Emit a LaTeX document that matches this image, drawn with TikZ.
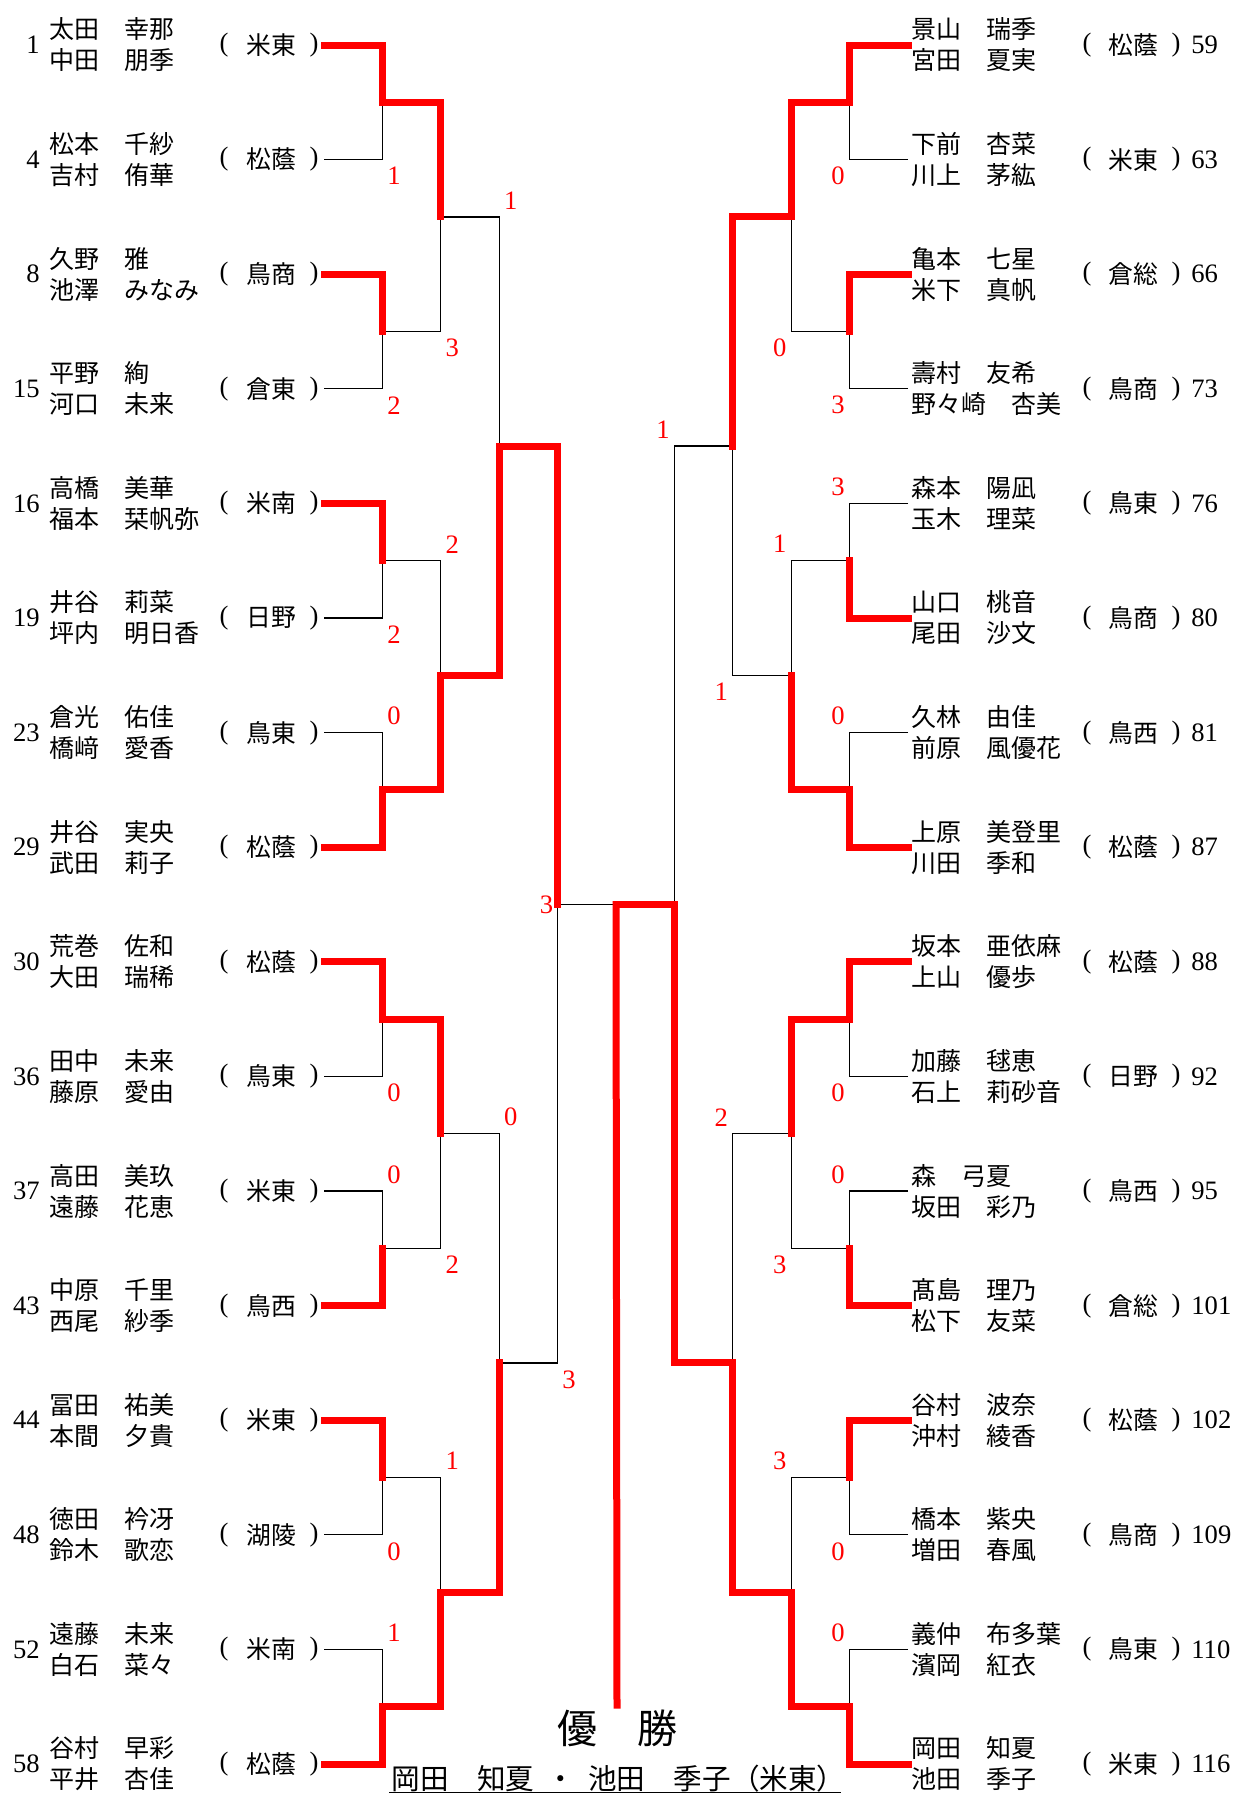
\documentclass[tikz,border=0pt]{standalone}
\usepackage{fontspec}
\setmainfont{Liberation Serif}
\newfontfamily\jpfont{Noto Sans CJK JP}
\usetikzlibrary{positioning,calc}

\begin{document}
\begin{tikzpicture}[x=0.5pt,y=-0.5pt,node distance=2pt]
  \tikzstyle{win}=[draw=red,line width=3.5pt,line cap=rect,line join=miter]
  \tikzstyle{lose}=[draw=black,line width=0.65pt]
  \tikzstyle{seed}=[inner sep=0pt,font=\fontsize{13.3}{15}\selectfont]
  \tikzstyle{score}=[inner sep=0pt,text=red,font=\fontsize{13.3}{15}\selectfont]
  \tikzstyle{paren}=[inner sep=0pt,font=\fontsize{13.3}{15}\selectfont]
  \tikzstyle{player}=[inner sep=0pt,align=left,font=\jpfont\fontsize{12.5}{15.5}\selectfont]
  \tikzstyle{school}=[inner sep=0pt,font=\jpfont\fontsize{12.4}{15}\selectfont]
  \useasboundingbox (0,0) rectangle (1236,1794);

  \foreach \q/\sd/\na/\nb/\tm in {0/1/太田　幸那/中田　朋季/米東, 1/4/松本　千紗/吉村　侑華/松蔭,
      2/8/久野　雅/池澤　みなみ/鳥商, 3/15/平野　絢/河口　未来/倉東,
      4/16/高橋　美華/福本　栞帆弥/米南, 5/19/井谷　莉菜/坪内　明日香/日野,
      6/23/倉光　佑佳/橋﨑　愛香/鳥東, 7/29/井谷　実央/武田　莉子/松蔭,
      8/30/荒巻　佐和/大田　瑞稀/松蔭, 9/36/田中　未来/藤原　愛由/鳥東,
      10/37/高田　美玖/遠藤　花恵/米東, 11/43/中原　千里/西尾　紗季/鳥西,
      12/44/冨田　祐美/本間　夕貴/米東, 13/48/徳田　衿冴/鈴木　歌恋/湖陵,
      14/52/遠藤　未来/白石　菜々/米南, 15/58/谷村　早彩/平井　杏佳/松蔭}{
    \node[seed,anchor=east] (sL\q) at (40,45+114.6*\q) {\sd};
    \node[player,anchor=west] (nL\q) at (49,45+114.6*\q) {\na\\\nb};
    \node[paren] (oL\q) at (224,45+114.6*\q) {(};
    \node[school] (kL\q) at (271,45+114.6*\q) {\tm};
    \node[paren] (cL\q) at (314,45+114.6*\q) {)};
    \coordinate (tL\q) at (324,45+114.6*\q);
  }

  \foreach \q/\sd/\na/\nb/\tm in {0/59/景山　瑞季/宮田　夏実/松蔭, 1/63/下前　杏菜/川上　茅紘/米東,
      2/66/亀本　七星/米下　真帆/倉総, 3/73/壽村　友希/野々崎　杏美/鳥商,
      4/76/森本　陽凪/玉木　理菜/鳥東, 5/80/山口　桃音/尾田　沙文/鳥商,
      6/81/久林　由佳/前原　風優花/鳥西, 7/87/上原　美登里/川田　季和/松蔭,
      8/88/坂本　亜依麻/上山　優歩/松蔭, 9/92/加藤　毬恵/石上　莉砂音/日野,
      10/95/森　弓夏/坂田　彩乃/鳥西, 11/101/髙島　理乃/松下　友菜/倉総,
      12/102/谷村　波奈/沖村　綾香/松蔭, 13/109/橋本　紫央/増田　春風/鳥商,
      14/110/義仲　布多葉/濱岡　紅衣/鳥東, 15/116/岡田　知夏/池田　季子/米東}{
    \coordinate (tR\q) at (908,45+114.6*\q);
    \node[player,anchor=west] (nR\q) at (911,45+114.6*\q) {\na\\\nb};
    \node[paren] (oR\q) at (1087,45+114.6*\q) {(};
    \node[school] (kR\q) at (1133,45+114.6*\q) {\tm};
    \node[paren] (cR\q) at (1176,45+114.6*\q) {)};
    \node[seed,anchor=west] (sR\q) at (1191,45+114.6*\q) {\sd};
  }

  \foreach \rd/\nm in {1/7,2/3,3/1,4/0}
    \foreach \j in {0,...,\nm}{
      \coordinate (L\rd-\j) at ({324+58.4*\rd},{45+114.6*(\j*2^\rd+(2^\rd-1)/2)});
      \coordinate (R\rd-\j) at ({908-58.4*\rd},{45+114.6*(\j*2^\rd+(2^\rd-1)/2)});
    }
  \coordinate (F) at (616,904.5);

  \foreach \ch/\pa/\v/\w in {tL1/L1-0/1/1, tL3/L1-1/2/1, tL5/L1-2/2/1, tL6/L1-3/0/-1,
      tL9/L1-4/0/1, tL10/L1-5/0/-1, tL13/L1-6/0/1, tL14/L1-7/1/-1,
      L1-1/L2-0/3/1, L1-2/L2-1/2/-1, L1-5/L2-2/2/1, L1-6/L2-3/1/-1,
      L2-0/L3-0/1/-1, L2-2/L3-1/0/-1, L3-1/L4-0/3/1}{
    \draw[lose] (\ch) -| (\pa);
    \node[score] (x\ch) at ($(\pa |- \ch)+(11.5,16.5*\w)$) {\v};
  }
  \foreach \ch/\pa/\v/\w in {tR1/R1-0/0/1, tR3/R1-1/3/1, tR4/R1-2/3/-1, tR6/R1-3/0/-1,
      tR9/R1-4/0/1, tR10/R1-5/0/-1, tR13/R1-6/0/1, tR14/R1-7/0/-1,
      R1-1/R2-0/0/1, R1-2/R2-1/1/-1, R1-5/R2-2/3/1, R1-6/R2-3/3/-1,
      R2-1/R3-0/1/1, R2-2/R3-1/2/-1, R3-0/R4-0/1/-1}{
    \draw[lose] (\ch) -| (\pa);
    \node[score] (x\ch) at ($(\pa |- \ch)+(-11.5,16.5*\w)$) {\v};
  }
  \draw[lose] (L4-0) -- (F);
  \node[score,left=of L4-0] (xL4-0) {3};

  \foreach \ch/\pa in {tL0/L1-0, tL2/L1-1, tL4/L1-2, tL7/L1-3, tL8/L1-4, tL11/L1-5, tL12/L1-6, tL15/L1-7,
      L1-0/L2-0, L1-3/L2-1, L1-4/L2-2, L1-7/L2-3, L2-1/L3-0, L2-3/L3-1, L3-0/L4-0,
      tR0/R1-0, tR2/R1-1, tR5/R1-2, tR7/R1-3, tR8/R1-4, tR11/R1-5, tR12/R1-6, tR15/R1-7,
      R1-0/R2-0, R1-3/R2-1, R1-4/R2-2, R1-7/R2-3, R2-0/R3-0, R2-3/R3-1, R3-1/R4-0, R4-0/F}
    \draw[win] (\ch) -| (\pa);

  \node[inner sep=0pt,font=\jpfont\fontsize{20}{24}\selectfont] (champ) at (617,1728) {優　勝};
  \draw[win] (F) -- ([yshift=2pt]champ.north);
  \node[inner sep=0pt,anchor=base west,font=\jpfont\fontsize{14.3}{16}\selectfont] (champn) at (391,1789)
    {岡田　知夏\hspace{0.44em}・\hspace{0.44em}池田　季子（米東）};
  \coordinate (ul0) at (389,1792.5);
  \coordinate (ul1) at (841,1792.5);
  \draw[line width=0.65pt] (ul0) -- (ul1);
\end{tikzpicture}
\end{document}
